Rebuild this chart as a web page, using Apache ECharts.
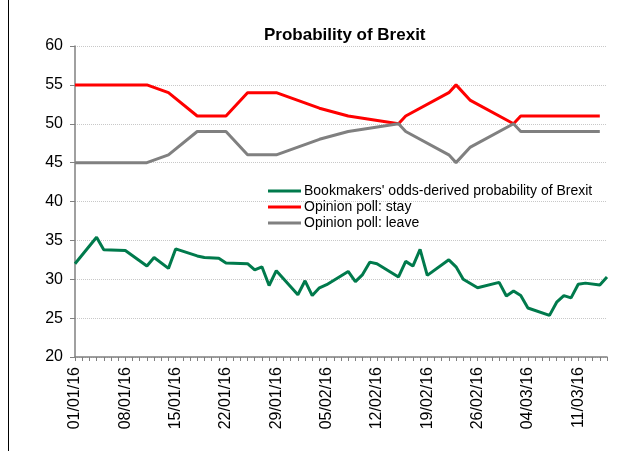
<!DOCTYPE html>
<html>
<head>
<meta charset="utf-8">
<script src="https://cdn.jsdelivr.net/npm/echarts@6/dist/echarts.min.js"></script>
<style>
html,body{margin:0;padding:0;background:#fff;}
#chart{width:644px;height:451px;}
</style>
</head>
<body>
<div id="chart"></div>
<script>
// Category axis: daily from 01/01/16 to 15/03/16
const startDate = '2016-01-01';
const dayCount = 75;
const yTicks = [20, 25, 30, 35, 40, 45, 50, 55, 60];

// Bookmakers' odds-derived probability of Brexit
const bookDates = ['01/01/16','04/01/16','05/01/16','08/01/16','11/01/16','12/01/16','14/01/16','15/01/16','18/01/16','19/01/16','21/01/16','22/01/16','25/01/16','26/01/16','27/01/16','28/01/16','29/01/16','01/02/16','02/02/16','03/02/16','04/02/16','05/02/16','08/02/16','09/02/16','10/02/16','11/02/16','12/02/16','15/02/16','16/02/16','17/02/16','18/02/16','19/02/16','22/02/16','23/02/16','24/02/16','26/02/16','29/02/16','01/03/16','02/03/16','03/03/16','04/03/16','07/03/16','08/03/16','09/03/16','10/03/16','11/03/16','12/03/16','14/03/16','15/03/16'];
const bookVals = [32.0,35.4,33.8,33.7,31.7,32.8,31.4,33.9,33.0,32.8,32.7,32.1,32.0,31.2,31.6,29.2,31.1,28.0,29.8,27.9,28.9,29.3,31.0,29.7,30.6,32.2,32.0,30.3,32.3,31.7,33.85,30.5,32.5,31.6,30.0,28.9,29.6,27.85,28.5,27.9,26.3,25.35,27.05,27.9,27.6,29.35,29.5,29.25,30.3];

// Opinion polls
const pollDates = ['01/01/16','11/01/16','14/01/16','18/01/16','22/01/16','25/01/16','29/01/16','04/02/16','08/02/16','15/02/16','16/02/16','22/02/16','23/02/16','25/02/16','02/03/16','03/03/16','14/03/16'];
const stayVals = [55,55,54,51,51,54,54,52,51,50,51,54,55,53,50,51,51];
const leaveVals = [45,45,46,49,49,46,46,48,49,50,49,46,45,47,50,49,49];

function pad(n){return (n<10?'0':'')+n;}
const categories = [];
(function(){
  const d0 = new Date(startDate + 'T00:00:00Z');
  for (let i = 0; i < dayCount; i++) {
    const d = new Date(d0.getTime() + i*86400000);
    categories.push(pad(d.getUTCDate()) + '/' + pad(d.getUTCMonth()+1) + '/' + String(d.getUTCFullYear()).slice(2));
  }
})();

const font = 'Liberation Sans, Arial, sans-serif';
const chart = echarts.init(document.getElementById('chart'), null, {renderer:'canvas'});
chart.setOption({
  animation: false,
  backgroundColor: '#fff',
  title: {
    text: 'Probability of Brexit',
    left: 259, top: 22,
    textStyle: {fontFamily: font, fontWeight: 'bold', fontSize: 17, color: '#000'}
  },
  legend: {
    orient: 'vertical',
    left: 263, top: 179,
    icon: 'path://M0,0 L33,0 L33,3 L0,3 Z',
    itemWidth: 33, itemHeight: 3, itemGap: 2,
    textStyle: {fontFamily: font, fontSize: 14, color: '#000', padding: [0,0,0,-2]},
    data: ["Bookmakers' odds-derived probability of Brexit", 'Opinion poll: stay', 'Opinion poll: leave']
  },
  grid: {left: 75, right: 37, top: 46, bottom: 94},
  xAxis: {
    type: 'category',
    data: categories,
    boundaryGap: false,
    axisLine: {lineStyle: {color: '#808080', width: 1.5}},
    axisTick: {show: true, interval: 0, length: 4, lineStyle: {color: '#808080'}},
    axisLabel: {
      interval: function(i){ return i % 7 === 0; },
      rotate: 90, margin: 10,
      fontFamily: font, fontSize: 16, color: '#000'
    },
    splitLine: {show: false}
  },
  yAxis: {
    type: 'value',
    min: yTicks[0], max: yTicks[yTicks.length-1], interval: 5,
    axisLine: {show: true, lineStyle: {color: '#808080', width: 1.5}},
    axisTick: {show: true, length: 5, lineStyle: {color: '#808080'}},
    axisLabel: {fontFamily: font, fontSize: 16, color: '#000', margin: 12},
    splitLine: {show: true, lineStyle: {color: '#c8c8c8', type: 'dotted', width: 1}}
  },
  graphic: [{
    type: 'line', shape: {x1: 8.5, y1: 0, x2: 8.5, y2: 451},
    style: {stroke: '#000', lineWidth: 1}
  }],
  series: [
    {
      name: "Bookmakers' odds-derived probability of Brexit",
      type: 'line', symbol: 'none',
      data: bookDates.map((d,i)=>[d, bookVals[i]]),
      lineStyle: {color: '#007A4C', width: 3},
      itemStyle: {color: '#007A4C'}
    },
    {
      name: 'Opinion poll: stay',
      type: 'line', symbol: 'none',
      data: pollDates.map((d,i)=>[d, stayVals[i]]),
      lineStyle: {color: '#FF0000', width: 3},
      itemStyle: {color: '#FF0000'}
    },
    {
      name: 'Opinion poll: leave',
      type: 'line', symbol: 'none',
      data: pollDates.map((d,i)=>[d, leaveVals[i]]),
      lineStyle: {color: '#808080', width: 3},
      itemStyle: {color: '#808080'}
    }
  ]
});
</script>
</body>
</html>
